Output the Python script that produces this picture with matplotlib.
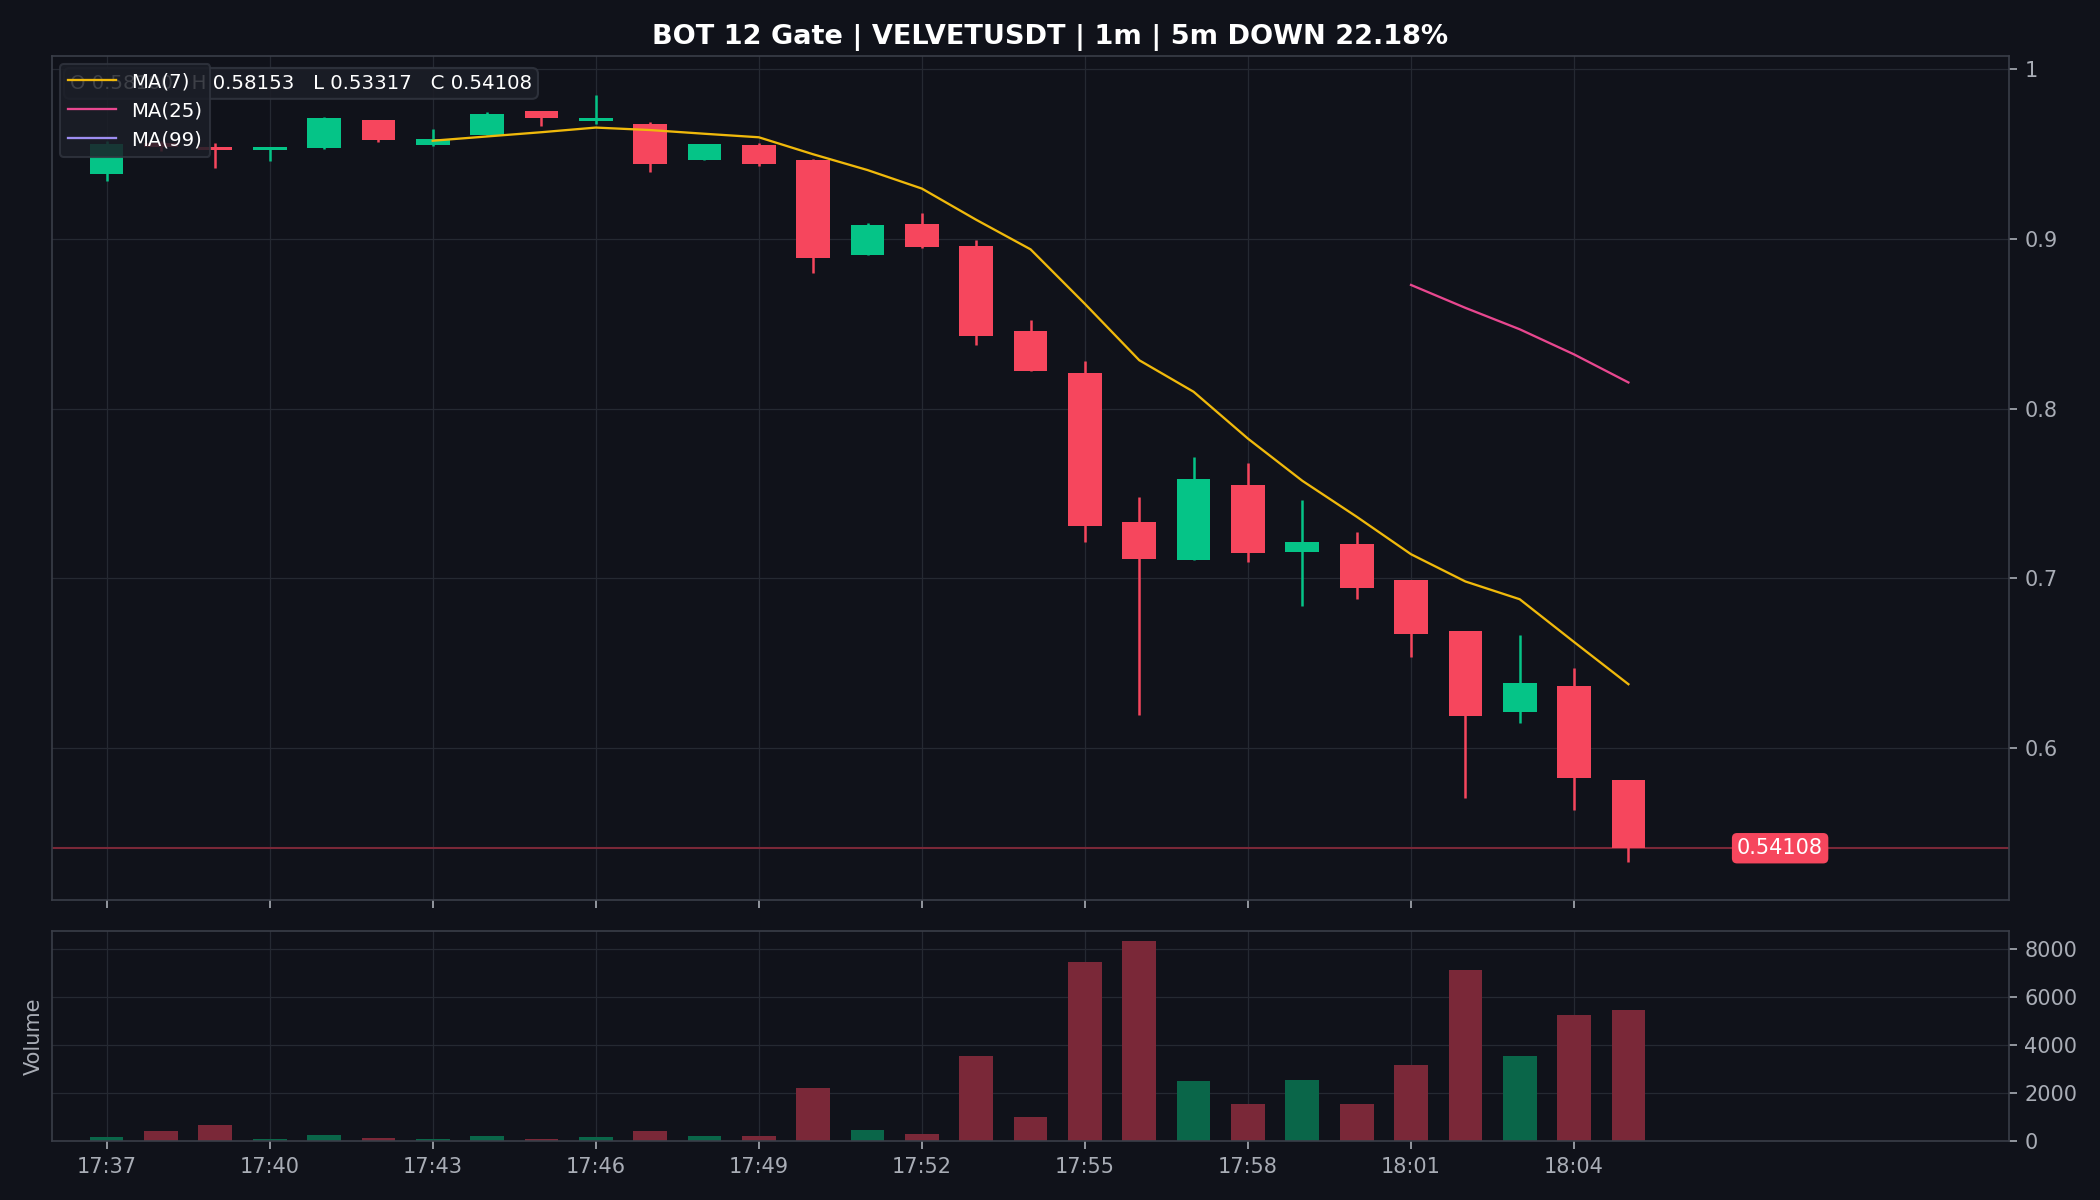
import numpy as np
import matplotlib
matplotlib.use("Agg")
import matplotlib.pyplot as plt
import pandas as pd

# 1m candles, 17:37 -> 18:05
times = ["17:37", "17:38", "17:39", "17:40", "17:41", "17:42", "17:43", "17:44",
         "17:45", "17:46", "17:47", "17:48", "17:49", "17:50", "17:51", "17:52",
         "17:53", "17:54", "17:55", "17:56", "17:57", "17:58", "17:59", "18:00",
         "18:01", "18:02", "18:03", "18:04", "18:05"]
opens = [0.9386, 0.9565, 0.9543, 0.9527, 0.9539, 0.9700, 0.9551, 0.9612,
         0.9755, 0.9696, 0.9677, 0.9463, 0.9553, 0.9465, 0.8904, 0.9090,
         0.8961, 0.8461, 0.8208, 0.7332, 0.7110, 0.7550, 0.7154, 0.7203,
         0.6993, 0.6689, 0.6213, 0.6368, 0.58100]
highs = [0.9580, 0.9580, 0.9567, 0.9545, 0.9719, 0.9700, 0.9649, 0.9747,
         0.9757, 0.9850, 0.9688, 0.9559, 0.9565, 0.9473, 0.9096, 0.9155,
         0.8994, 0.8520, 0.8279, 0.7479, 0.7714, 0.7679, 0.7465, 0.7271,
         0.6993, 0.6689, 0.6667, 0.6473, 0.58153]
lows = [0.9339, 0.9520, 0.9421, 0.9457, 0.9531, 0.9572, 0.9549, 0.9610,
        0.9668, 0.9680, 0.9394, 0.9463, 0.9432, 0.8798, 0.8904, 0.8948,
        0.8373, 0.8222, 0.7214, 0.6197, 0.7110, 0.7097, 0.6840, 0.6881,
        0.6540, 0.5705, 0.6146, 0.5634, 0.53317]
closes = [0.9559, 0.9540, 0.9524, 0.9543, 0.9712, 0.9586, 0.9590, 0.9735,
          0.9715, 0.9715, 0.9441, 0.9559, 0.9441, 0.8889, 0.9084, 0.8951,
          0.8428, 0.8222, 0.7310, 0.7116, 0.7589, 0.7151, 0.7213, 0.6946,
          0.6675, 0.6187, 0.6383, 0.5825, 0.54108]
volumes = [150, 400, 650, 70, 235, 110, 70, 195, 70, 150, 400, 195, 195,
           2233, 444, 277, 3564, 985, 7448, 8350, 2524, 1526, 2566, 1567,
           3162, 7143, 3564, 5270, 5450]

title = "BOT 12 Gate | VELVETUSDT | 1m | 5m DOWN 22.18%"

BG = "#10121a"
UP = "#05c487"
DOWN = "#f6465d"
UP_VOL = "#0a6649"
DOWN_VOL = "#7a2838"
GRID = "#252932"
SPINE = "#3a3e48"
TXT = "#a9adb6"

df = pd.DataFrame({"open": opens, "high": highs, "low": lows,
                   "close": closes, "volume": volumes}, index=times)
x = np.arange(len(df))
up = df["close"] >= df["open"]

fig = plt.figure(figsize=(14, 8), dpi=150, facecolor=BG)
ax = fig.add_axes([0.0249, 0.25, 0.9317, 0.703])
axv = fig.add_axes([0.0249, 0.0491, 0.9317, 0.1752], sharex=ax)

for a in (ax, axv):
    a.set_facecolor(BG)
    for s in a.spines.values():
        s.set_color(SPINE)
    a.grid(True, color=GRID, linewidth=0.6)
    a.set_axisbelow(True)
    a.yaxis.tick_right()
    a.tick_params(colors=TXT, labelsize=10, length=4)

w = 0.62
colors = np.where(up, UP, DOWN)
ax.vlines(x, df["low"], df["high"], colors=colors, linewidth=1.2, zorder=2)
body_lo = np.minimum(df["open"], df["close"])
body_h = np.maximum((df["close"] - df["open"]).abs(), 0.0015)
ax.bar(x, body_h, bottom=body_lo, width=w, color=colors, zorder=3)

ma_cols = {7: "#f0b90b", 25: "#e8478f", 99: "#9d8df1"}
for n, c in ma_cols.items():
    ma = df["close"].rolling(n).mean()
    ax.plot(x, ma, color=c, linewidth=1.1, label=f"MA({n})", zorder=4)

last = df["close"].iloc[-1]
ax.axhline(last, color="#7a2838", linewidth=1.0, zorder=1)
ax.text(len(df) + 1, last, f"{last:.5f}", color="white", fontsize=10,
        ha="left", va="center", zorder=6,
        bbox=dict(boxstyle="round,pad=0.25", fc=DOWN, ec="none"))

span = df["high"].max() - df["low"].min()
ax.set_ylim(df["low"].min() - 0.05 * span, df["high"].max() + 0.05 * span)
ax.set_xlim(-1, len(df) + 6)
ax.set_yticks([0.6, 0.7, 0.8, 0.9, 1.0])
ax.set_yticklabels(["0.6", "0.7", "0.8", "0.9", "1"])
ax.tick_params(axis="x", labelbottom=False)

r = df.iloc[-1]
ax.text(0.009, 0.968,
        f"O {r['open']:.5f}   H {r['high']:.5f}   L {r['low']:.5f}   C {r['close']:.5f}",
        transform=ax.transAxes, color="white", fontsize=9.5, va="center", zorder=5,
        bbox=dict(boxstyle="round,pad=0.3", fc="#1b1e27", ec="#30343e", alpha=0.9))

leg = ax.legend(loc="upper left", fontsize=9.5, facecolor="#1b1e27",
                edgecolor="#30343e", framealpha=0.85, labelcolor="white",
                borderaxespad=0.4, handlelength=2.4)
leg.set_zorder(7)

vcol = np.where(up, UP_VOL, DOWN_VOL)
axv.bar(x, df["volume"], width=w, color=vcol)
axv.set_ylim(0, df["volume"].max() * 1.05)
axv.set_yticks([0, 2000, 4000, 6000, 8000])
axv.set_ylabel("Volume", color=TXT, fontsize=10)
axv.yaxis.set_label_position("left")

ticks = x[::3]
axv.set_xticks(ticks)
axv.set_xticklabels([times[i] for i in ticks])

fig.suptitle(title, color="white", fontsize=13, fontweight="bold", y=0.98)

fig.savefig("out.png", dpi=150, facecolor=BG)
